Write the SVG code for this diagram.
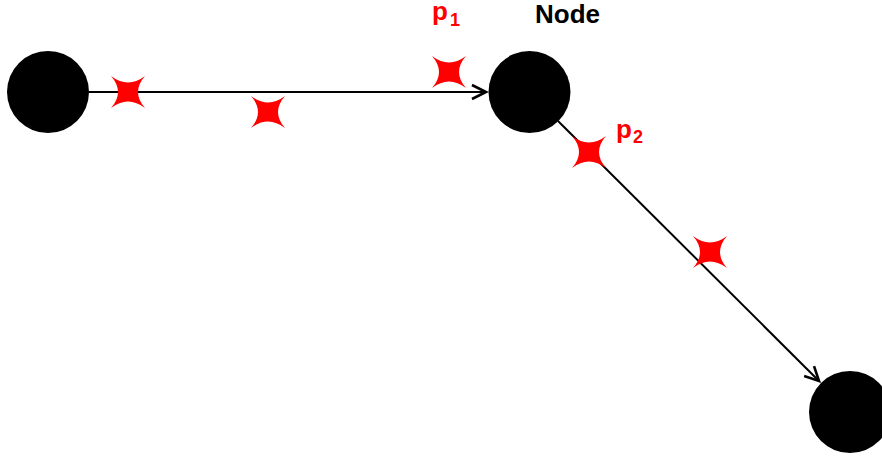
<svg xmlns="http://www.w3.org/2000/svg" width="882" height="459" viewBox="0 0 882 459">
  <style>
    .node { fill: #000000; }
    .edge { stroke: #000000; stroke-width: 2; fill: none; }
    .star { fill: #ff0000; }
    .lbl { font-family: "Liberation Sans", Arial, sans-serif; font-weight: bold; }
    .red { fill: #ff0000; }
  </style>
  <defs>
    <marker id="arrow" markerUnits="userSpaceOnUse" markerWidth="20" markerHeight="20" viewBox="-16 -10 20 20" refX="0" refY="0" orient="auto">
      <path d="M -14 -7 L 0 0 L -14 7" fill="none" stroke="#000000" stroke-width="2.6"/>
    </marker>
    <path id="star4" d="M -17 -16 Q 0 -3 17 -16 Q 3 0 17 16 Q 0 3 -17 16 Q -3 0 -17 -16 Z"/>
  </defs>

  <g id="connectors">
    <path class="edge" d="M 89 92 L 486 92" marker-end="url(#arrow)"/>
    <path class="edge" d="M 558 121 L 819 381" marker-end="url(#arrow)"/>
  </g>

  <g id="node-left">
    <circle class="node" cx="48" cy="92" r="41"/>
  </g>
  <g id="node-middle">
    <circle class="node" cx="529.5" cy="92" r="41"/>
    <text class="lbl" x="535" y="23" font-size="26" fill="#000000">Node</text>
  </g>
  <g id="node-bottom">
    <circle class="node" cx="850" cy="412" r="41"/>
  </g>

  <g id="points">
    <use href="#star4" class="star" transform="translate(128 92)"/>
    <use href="#star4" class="star" transform="translate(268 112)"/>
    <use href="#star4" class="star" transform="translate(449 72)"/>
    <use href="#star4" class="star" transform="translate(589 152)"/>
    <use href="#star4" class="star" transform="translate(710 252)"/>
  </g>

  <g id="labels">
    <text class="lbl red" x="432" y="20" font-size="26">p<tspan x="450" y="26" font-size="18">1</tspan></text>
    <text class="lbl red" x="616" y="138" font-size="26">p<tspan x="633" y="143" font-size="18">2</tspan></text>
  </g>
</svg>
